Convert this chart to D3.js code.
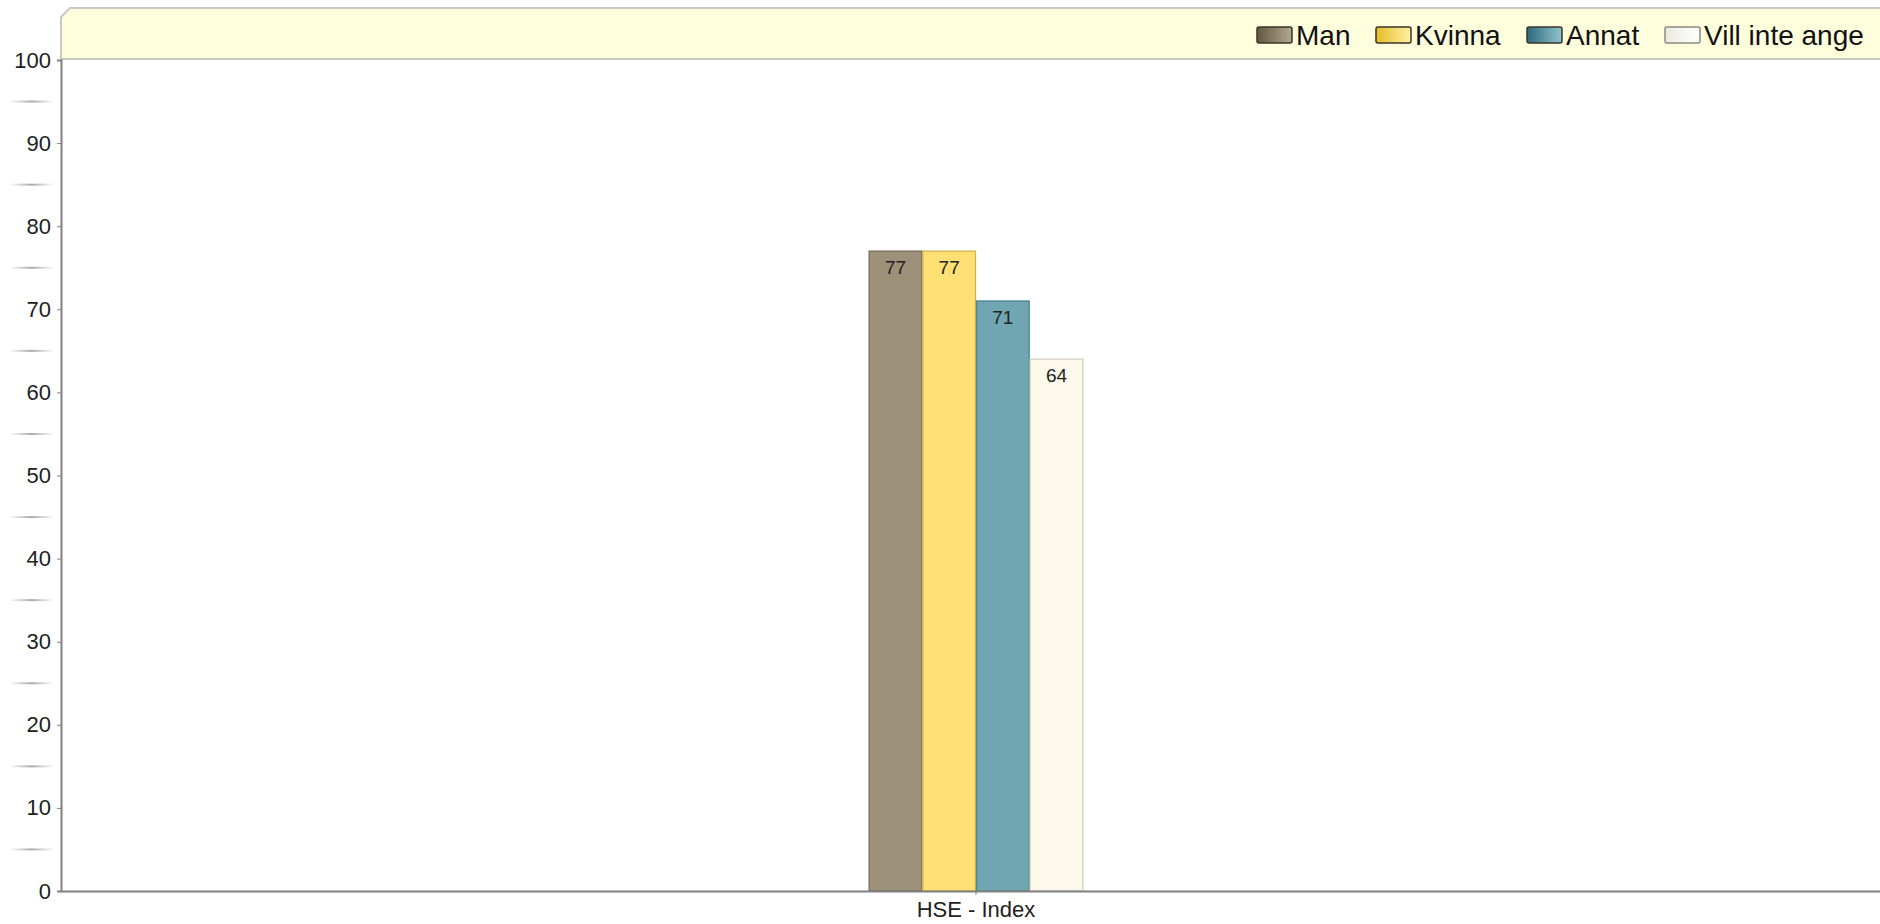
<!DOCTYPE html>
<html>
<head>
<meta charset="utf-8">
<script src="https://cdn.jsdelivr.net/npm/d3@7"></script>
<style>
  body { margin: 0; background: #fff; overflow: hidden; }
  text { font-family: 'Liberation Sans', Arial, sans-serif; }
</style>
</head>
<body>
<div id="chart"></div>
<script>
const categories = ['HSE - Index'];
const seriesNames = ['Man', 'Kvinna', 'Annat', 'Vill inte ange'];
const seriesValues = [[77], [77], [71], [64]];
const yTicks = [0, 10, 20, 30, 40, 50, 60, 70, 80, 90, 100];
const yMinorTicks = [5, 15, 25, 35, 45, 55, 65, 75, 85, 95];

const barFill = ['#9e917a', '#fee074', '#6fa6b2', '#fdf9ea'];
const barStroke = ['#786c58', '#d2b24a', '#4d8492', '#d3d0c0'];
const swatchDark = ['#64573f', '#e6bd2a', '#2c6a7c', '#ecebe0'];
const swatchLight = ['#b3a893', '#fff1a4', '#93c3ce', '#ffffff'];

function drawChart() {
  const width = 1880,
    height = 924;
  const margin = { top: 60, right: -11, bottom: 33, left: 61 };

  const svg = d3
    .select('#chart')
    .append('svg')
    .attr('width', width)
    .attr('height', height);

  const defs = svg.append('defs');

  // Scales
  const x0 = d3
    .scaleBand()
    .domain(categories)
    .range([margin.left, width - margin.right])
    .padding(0.79);
  const x1 = d3
    .scaleBand()
    .domain(seriesNames)
    .range([0, x0.bandwidth()]);
  const y = d3
    .scaleLinear()
    .domain([0, 100])
    .range([height - margin.bottom, margin.top]);

  // Legend band with cut corner
  const bandTop = 8,
    bandBottom = y(100) - 1;
  svg
    .append('path')
    .attr(
      'd',
      `M${margin.left},${bandBottom} L${margin.left},${bandTop + 9} L${margin.left + 9},${bandTop} L${width + 5},${bandTop} L${width + 5},${bandBottom} Z`
    )
    .attr('fill', '#fefedd')
    .attr('stroke', '#c9c9c0')
    .attr('stroke-width', 2);

  // Minor tick marks, faded at both ends
  const minorGrad = defs
    .append('linearGradient')
    .attr('id', 'minorGrad')
    .attr('x1', '0%')
    .attr('x2', '100%');
  minorGrad.append('stop').attr('offset', '0%').attr('stop-color', '#fff');
  minorGrad.append('stop').attr('offset', '50%').attr('stop-color', '#aaa');
  minorGrad.append('stop').attr('offset', '100%').attr('stop-color', '#fff');

  svg
    .append('g')
    .selectAll('rect')
    .data(yMinorTicks)
    .join('rect')
    .attr('x', 9)
    .attr('y', (d) => y(d) - 1)
    .attr('width', 45)
    .attr('height', 2)
    .attr('fill', 'url(#minorGrad)');

  // Bars
  const group = svg
    .append('g')
    .selectAll('g')
    .data(categories)
    .join('g')
    .attr('transform', (d) => `translate(${x0(d)},0)`);

  const barData = (c, ci) =>
    seriesNames.map((s, i) => ({ s: s, i: i, v: seriesValues[i][ci] }));

  group
    .selectAll('rect')
    .data(barData)
    .join('rect')
    .attr('x', (d) => x1(d.s) + 0.5)
    .attr('y', (d) => y(d.v))
    .attr('width', x1.bandwidth() - 1)
    .attr('height', (d) => y(0) - y(d.v))
    .attr('fill', (d) => barFill[d.i])
    .attr('stroke', (d) => barStroke[d.i])
    .attr('stroke-width', 1.3);

  group
    .selectAll('text')
    .data(barData)
    .join('text')
    .attr('x', (d) => x1(d.s) + x1.bandwidth() / 2)
    .attr('y', (d) => y(d.v) + 23)
    .attr('text-anchor', 'middle')
    .style('font-size', '19px')
    .style('fill', '#222')
    .text((d) => d.v);

  // Axes
  const yAxis = svg
    .append('g')
    .attr('transform', `translate(${margin.left},0)`)
    .call(d3.axisLeft(y).tickValues(yTicks).tickSize(4).tickPadding(6));
  yAxis.select('.domain').attr('stroke', '#808080').attr('stroke-width', 2);
  yAxis.selectAll('.tick line').attr('stroke', '#808080');
  yAxis
    .selectAll('.tick text')
    .style('font-size', '22px')
    .style('fill', '#222')
    .attr('font-family', null);

  const xAxis = svg
    .append('g')
    .attr('transform', `translate(0,${y(0)})`)
    .call(d3.axisBottom(x0).tickSize(4).tickSizeOuter(0).tickPadding(6));
  xAxis.select('.domain').attr('stroke', '#808080').attr('stroke-width', 2);
  xAxis.selectAll('.tick line').attr('stroke', '#808080');
  xAxis
    .selectAll('.tick text')
    .style('font-size', '22px')
    .style('fill', '#222')
    .attr('font-family', null);

  // Legend
  seriesNames.forEach((s, i) => {
    const g = defs
      .append('linearGradient')
      .attr('id', 'sw' + i)
      .attr('x1', '0%')
      .attr('x2', '100%');
    g.append('stop').attr('offset', '0%').attr('stop-color', swatchDark[i]);
    g.append('stop').attr('offset', '100%').attr('stop-color', swatchLight[i]);
  });

  const legendX = [1257, 1376, 1527, 1665];
  const legend = svg
    .append('g')
    .selectAll('g')
    .data(seriesNames)
    .join('g')
    .attr('transform', (d, i) => `translate(${legendX[i]},27)`);

  legend
    .append('rect')
    .attr('width', 35)
    .attr('height', 16)
    .attr('rx', 2)
    .attr('fill', (d, i) => `url(#sw${i})`)
    .attr('stroke', (d, i) => (i === 3 ? '#8a8a80' : '#3a3428'))
    .attr('stroke-width', 1.5);

  legend
    .append('text')
    .attr('x', 39)
    .attr('y', 18)
    .style('font-size', '28px')
    .style('fill', '#111')
    .text((d) => d);
}

drawChart();
</script>
</body>
</html>
